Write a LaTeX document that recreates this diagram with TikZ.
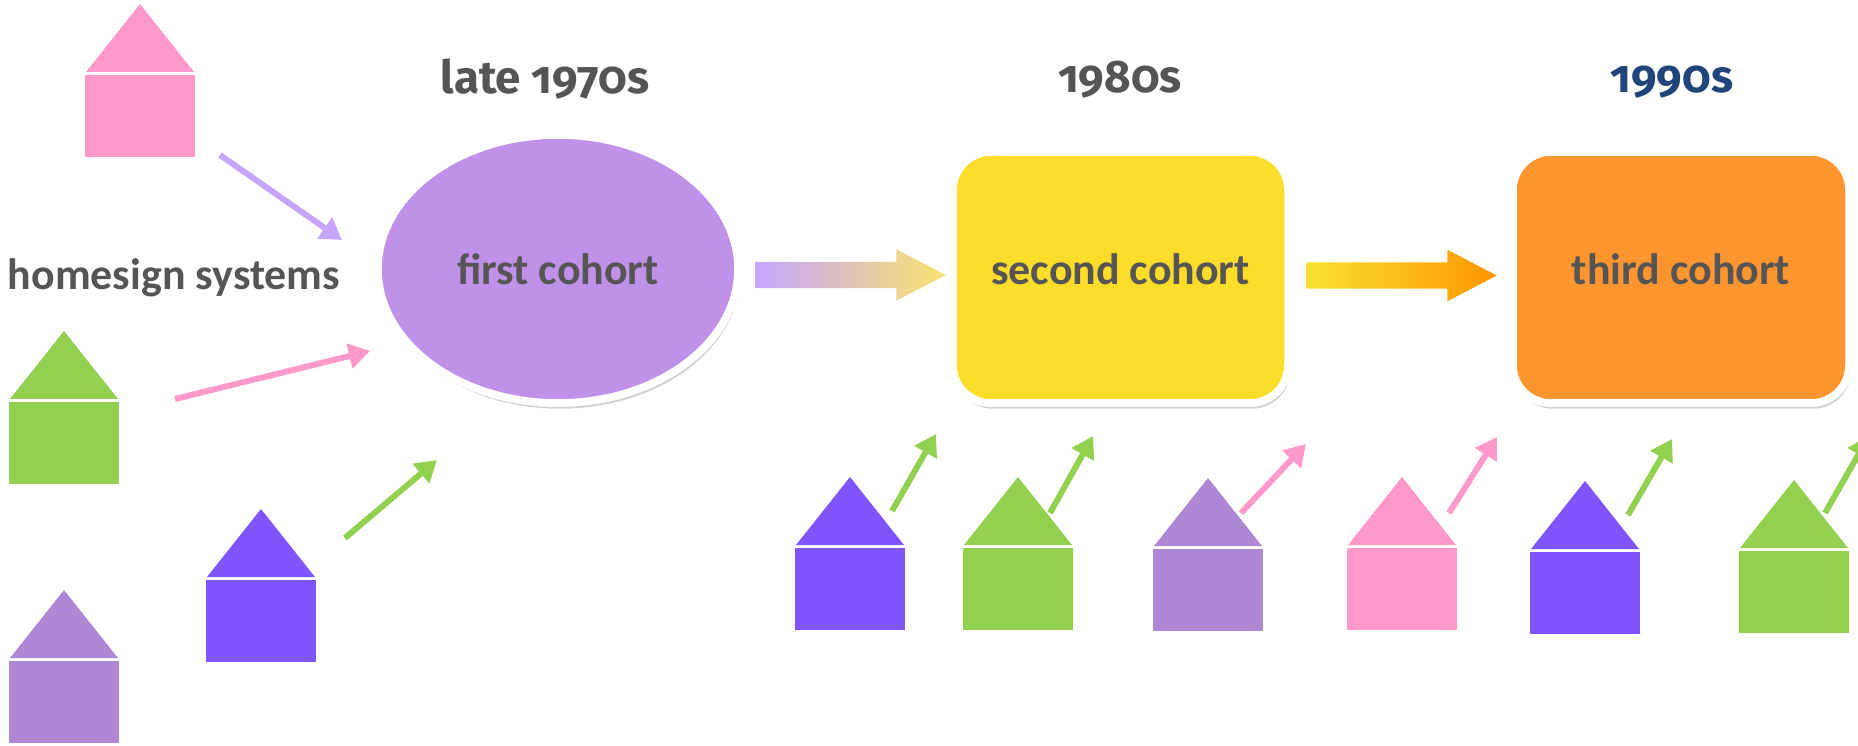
\documentclass[tikz,border=0pt]{standalone}
\usepackage{fontspec}
\setmainfont{Carlito}
\newfontfamily\decadefont{Fira Sans}[Numbers=OldStyle]
\usetikzlibrary{arrows.meta,shapes.geometric,shapes.arrows,shadows,calc}

\definecolor{housepink}{HTML}{FF99CC}
\definecolor{housegreen}{HTML}{92D050}
\definecolor{houselilac}{HTML}{AE87D4}
\definecolor{houseviolet}{HTML}{8055FF}
\definecolor{arrowlilac}{HTML}{C5A5FF}
\definecolor{cohortone}{HTML}{BF91E8}
\definecolor{cohorttwo}{HTML}{FDDC2A}
\definecolor{cohortthree}{HTML}{FE952F}
\definecolor{fadeyellow}{HTML}{F9E36E}
\definecolor{stripyellow}{HTML}{F7E330}
\definecolor{striporange}{HTML}{FF9400}
\definecolor{textgray}{HTML}{555555}
\definecolor{decadeblue}{HTML}{1F457A}

\tikzset{
  cohort/.style={draw=white, line width=2.2pt, text=textgray, inner sep=0pt,
    font=\fontsize{12.5}{15}\selectfont\bfseries,
    drop shadow={shadow xshift=0.6pt, shadow yshift=-1.6pt, opacity=0.18, fill=black}},
  decade/.style={anchor=base, text=textgray, font=\decadefont\fontsize{13}{16}\selectfont\bfseries},
  feeder/.style={line width=1.7pt, -{Triangle[length=6pt,width=7pt]}},
  era arrow/.style={single arrow, anchor=tail, inner xsep=0pt, inner ysep=0.125cm, minimum height=1.9cm,
    minimum width=0.5cm, single arrow head extend=0.125cm, single arrow tip angle=55}
}

\begin{document}
\begin{tikzpicture}[x=0.01cm,y=-0.01cm]
\useasboundingbox (0,0) rectangle (1858,746);
% draw houses
\foreach \hx/\hy/\hc in {140/75/housepink, 64/402/housegreen, 64/661/houselilac, 261/580/houseviolet,
  850/548/houseviolet, 1018/548/housegreen, 1208/549/houselilac, 1402/548/housepink,
  1585/552/houseviolet, 1794/551/housegreen}{
	\fill[\hc] ({\hx-55},\hy) rectangle ({\hx+55},{\hy+82});
	\fill[\hc] ({\hx-54},{\hy-3}) -- ({\hx+54},{\hy-3}) -- (\hx,{\hy-71}) -- cycle;
}
% draw cohorts
\node[cohort, ellipse, fill=cohortone, minimum width=3.6cm, minimum height=2.68cm] (first) at (558,269) {first cohort};
\node[cohort, rounded corners=0.38cm, fill=cohorttwo, minimum width=3.35cm, minimum height=2.51cm, text depth=4.6pt] (second) at (1120.5,277.5) {second cohort};
\node[cohort, rounded corners=0.38cm, fill=cohortthree, minimum width=3.36cm, minimum height=2.51cm, text depth=4.6pt] (third) at (1681,277.5) {third cohort};
% draw labels
\node[decade] (late) at (545,94) {late 1970s};
\node[decade] (eighties) at (1120,93) {1980s};
\node[decade, text=decadeblue] (nineties) at (1672,93) {1990s};
\node[anchor=base, text=textgray, font=\fontsize{12.5}{15}\selectfont\bfseries] (homesign) at (174,290) {homesign systems};
% draw arrows between cohorts
\node[era arrow, left color=arrowlilac, right color=fadeyellow] (shift1) at ($(first.east)+(13,6)$) {};
\node[era arrow, left color=stripyellow, right color=striporange] (shift2) at ($(second.east)+(14,-2)$) {};
% draw arrows from houses
\foreach \sx/\sy/\tx/\ty/\ac [count=\i] in {220/155/342/240/arrowlilac, 175/399/370/351/housepink,
  345/538/437/460/housegreen, 892/511/936/434/housegreen, 1050/513/1093/436/housegreen,
  1241/513/1306/444/housepink, 1449/513/1497/437/housepink, 1628/515/1672/439/housegreen,
  1825/513/1869/436/housegreen}{
	\coordinate (from\i) at (\sx,\sy);
	\coordinate (to\i) at (\tx,\ty);
	\draw[feeder, \ac] (from\i) -- (to\i);
}
\end{tikzpicture}
\end{document}
